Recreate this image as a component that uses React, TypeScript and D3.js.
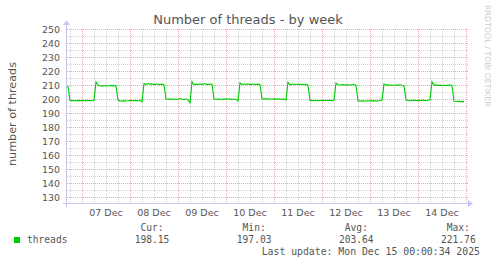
import React from "react";
import * as d3 from "d3";

const W = 497;
const H = 264;

// hourly samples, UTC
const dec06 = [209.2, 209.0, 199.0, 198.8, 198.9, 198.7, 198.9, 198.8]; // 16:00..23:00
const dec07 = [198.9, 198.7, 199.0, 198.8, 198.9, 198.7, 199.1, 212.2, 210.0, 209.3, 209.5, 209.4, 209.6, 209.3, 209.5, 209.7, 209.4, 209.6, 199.2, 198.6, 198.5, 198.8, 198.6, 198.7];
const dec08 = [198.9, 198.7, 198.8, 199.0, 198.6, 199.2, 197.9, 211.0, 210.3, 211.0, 210.6, 210.8, 210.4, 210.7, 210.5, 210.3, 210.6, 210.2, 200.0, 199.8, 200.1, 199.7, 200.0, 199.8];
const dec09 = [199.6, 200.3, 199.8, 199.5, 200.1, 199.3, 197.2, 212.4, 210.2, 210.6, 210.4, 210.8, 210.5, 210.9, 210.6, 210.3, 210.7, 210.5, 199.9, 199.6, 200.0, 199.8, 199.7, 200.1];
const dec10 = [199.8, 200.2, 199.9, 199.6, 200.0, 199.7, 198.6, 211.6, 210.3, 210.7, 210.5, 210.8, 210.4, 210.6, 210.5, 210.3, 210.6, 210.4, 200.0, 200.1, 199.9, 200.2, 200.0, 199.8];
const dec11 = [200.1, 199.9, 200.2, 200.0, 199.7, 200.1, 199.2, 212.0, 210.1, 210.5, 210.6, 210.4, 210.7, 210.3, 210.5, 210.2, 210.4, 209.9, 199.0, 198.8, 198.9, 199.1, 198.8, 198.9];
const dec12 = [199.0, 198.8, 199.1, 198.9, 199.2, 198.8, 199.3, 211.4, 210.2, 210.0, 210.3, 210.1, 209.9, 210.2, 210.0, 210.3, 210.1, 209.8, 198.6, 198.5, 198.7, 198.5, 198.6, 198.7];
const dec13 = [198.6, 198.8, 198.5, 198.7, 198.6, 198.9, 199.2, 210.8, 209.9, 210.1, 209.8, 210.0, 209.7, 210.0, 209.9, 210.2, 209.8, 209.6, 199.2, 199.0, 198.8, 199.1, 198.9, 199.0];
const dec14 = [198.8, 199.0, 198.9, 199.2, 198.8, 199.1, 199.4, 212.3, 209.9, 210.1, 209.7, 209.9, 209.6, 209.8, 209.5, 209.9, 210.0, 209.6, 198.4, 198.2, 198.3, 198.1, 198.2, 198.15];
const threadValues = [...dec06, ...dec07, ...dec08, ...dec09, ...dec10, ...dec11, ...dec12, ...dec13, ...dec14];
const dataStart = Date.UTC(2025, 11, 6, 16, 0);

const yMajorTicks = [130, 140, 150, 160, 170, 180, 190, 200, 210, 220, 230, 240, 250];
const yMinorTicks = [135, 145, 155, 165, 175, 185, 195, 205, 215, 225, 235, 245];
const xLabels = ["07 Dec", "08 Dec", "09 Dec", "10 Dec", "11 Dec", "12 Dec", "13 Dec", "14 Dec"];

const legendLabels = ["Cur:", "Min:", "Avg:", "Max:"];
const legendValues = ["198.15", "197.03", "203.64", "221.76"];
const seriesName = "threads";
const title = "Number of threads - by week";
const yTitle = "number of threads";
const lastUpdate = "Last update: Mon Dec 15 00:00:34 2025";
const watermark = "RRDTOOL / TOBI OETIKER";

const PL = 67, PR = 467, PT = 29, PB = 203;

export default function App() {
  const x = d3
    .scaleUtc()
    .domain([new Date(Date.UTC(2025, 11, 6, 16, 30)), new Date(Date.UTC(2025, 11, 15, 0, 30))])
    .range([PL, PR]);
  const y = d3.scaleLinear().domain([125.7, 250]).range([PB, PT]);

  const points = threadValues.map((v, i) => ({ t: new Date(dataStart + i * 3600000), v }));
  const line = d3
    .line<{ t: Date; v: number }>()
    .x((d) => x(d.t))
    .y((d) => y(d.v));

  const [d0, d1] = x.domain();
  const minorX = d3.utcHour.every(6)!.range(d0, d1).filter((d) => d.getUTCHours() !== 0);
  const majorX = d3.utcDay.range(d0, d1);
  const labelDays = majorX.slice(0, xLabels.length);

  const sans = "'DejaVu Sans', sans-serif";
  const mono = "'DejaVu Sans Mono', monospace";
  const txt = "#555";
  const gridGray = "#d2d2d2";
  const gridRed = "#f0a8a8";
  const axisCol = "#c4c8f2";

  const colX = (i: number) => 134.7 + i * 102.1;

  return (
    <svg width={W} height={H} style={{ position: "absolute", left: 0, top: 0, background: "#fff" }}>
      <defs>
        <clipPath id="plot">
          <rect x={PL} y={PT - 2} width={PR - PL + 1} height={PB - PT + 2} />
        </clipPath>
      </defs>
      <rect x={0} y={0} width={W} height={H} fill="#fff" />
      <text x={248} y={24} textAnchor="middle" fontFamily={sans} fontSize={13} fill={txt}>
        {title}
      </text>
      <text
        transform={`translate(485,5) rotate(90)`}
        fontFamily={sans}
        fontSize={7.9}
        fill="#cccccc"
      >
        {watermark}
      </text>
      <text
        transform={`translate(15.5,114) rotate(-90)`}
        textAnchor="middle"
        fontFamily={sans}
        fontSize={11.2}
        fill={txt}
      >
        {yTitle}
      </text>

      {/* grid */}
      <g shapeRendering="crispEdges" strokeDasharray="1,1">
        {yMinorTicks.map((v) => (
          <line key={"ym" + v} x1={PL} x2={PR + 1} y1={Math.round(y(v)) + 0.5} y2={Math.round(y(v)) + 0.5} stroke={gridGray} />
        ))}
        {minorX.map((d) => (
          <line key={"xm" + d.getTime()} x1={Math.round(x(d)) + 0.5} x2={Math.round(x(d)) + 0.5} y1={PT} y2={PB} stroke={gridGray} />
        ))}
        {yMajorTicks.map((v) => (
          <line key={"yM" + v} x1={PL} x2={PR + 1} y1={Math.round(y(v)) + 0.5} y2={Math.round(y(v)) + 0.5} stroke={gridRed} />
        ))}
        {majorX.map((d) => (
          <line key={"xM" + d.getTime()} x1={Math.round(x(d)) + 0.5} x2={Math.round(x(d)) + 0.5} y1={PT} y2={PB} stroke={gridRed} />
        ))}
      </g>

      {/* y labels */}
      {yMajorTicks.map((v) => (
        <text key={"yl" + v} x={60} y={Math.round(y(v)) + 3.6} textAnchor="end" fontFamily={sans} fontSize={9.4} fill={txt}>
          {v}
        </text>
      ))}
      {/* x labels */}
      {labelDays.map((d, i) => (
        <text key={"xl" + i} x={x(d3.utcHour.offset(d, 12))} y={215.5} textAnchor="middle" fontFamily={sans} fontSize={9.5} fill={txt}>
          {xLabels[i]}
        </text>
      ))}

      {/* data */}
      <path d={line(points) || ""} fill="none" stroke="#00cc00" strokeWidth={1.1} clipPath="url(#plot)" />

      {/* axes */}
      <g shapeRendering="crispEdges">
        <line x1={63} x2={469} y1={PB + 0.5} y2={PB + 0.5} stroke={axisCol} />
        <line x1={PL - 0.5} x2={PL - 0.5} y1={207} y2={25} stroke={axisCol} />
      </g>
      <path d={`M468,${PB - 3}L473,${PB + 0.5}L468,${PB + 4}Z`} fill={axisCol} />
      <path d={`M${PL - 4},25L${PL - 0.5},20L${PL + 3},25Z`} fill={axisCol} />

      {/* legend */}
      <rect x={14} y={237} width={6} height={6} fill="#00cc00" />
      <text x={27} y={243} fontFamily={mono} fontSize={9.6} fill={txt}>
        {seriesName}
      </text>
      {legendLabels.map((l, i) => (
        <text key={l} x={colX(i) + 5.8} y={231} fontFamily={mono} fontSize={9.6} fill={txt}>
          {l}
        </text>
      ))}
      {legendValues.map((v, i) => (
        <text key={v} x={colX(i)} y={243} fontFamily={mono} fontSize={9.6} fill={txt}>
          {v}
        </text>
      ))}
      <text x={261.7} y={254.5} fontFamily={mono} fontSize={9.8} fill={txt}>
        {lastUpdate}
      </text>
    </svg>
  );
}
